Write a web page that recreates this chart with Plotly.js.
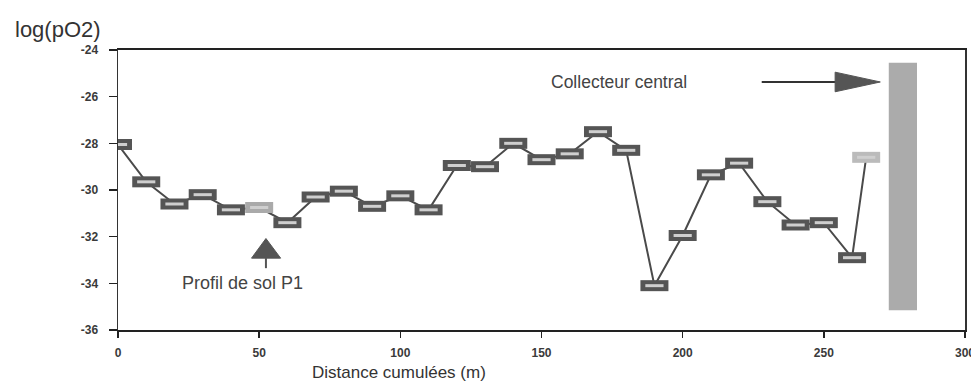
<!DOCTYPE html>
<html><head><meta charset="utf-8">
<script src="https://cdn.plot.ly/plotly-3.0.1.min.js"></script>
<style>html,body{margin:0;padding:0;background:#fff}#c{width:971px;height:383px}</style>
</head><body><div id="c"></div>
<script>
const distance = [0,10,20,30,40,50,60,70,80,90,100,110,120,130,140,150,160,170,180,190,200,210,220,230,240,250,260,265];
const logPO2 = [-28.05,-29.65,-30.6,-30.2,-30.85,-30.75,-31.4,-30.3,-30.05,-30.7,-30.25,-30.85,-28.95,-29.0,-28.0,-28.7,-28.45,-27.5,-28.3,-34.1,-31.95,-29.35,-28.85,-30.5,-31.5,-31.4,-32.9,-28.6];
const boxColors = ['#555','#555','#555','#555','#555','#aaa','#555','#555','#555','#555','#555','#555','#555','#555','#555','#555','#555','#555','#555','#555','#555','#555','#555','#555','#555','#555','#555','#bbb'];
const xTicks = [0,50,100,150,200,250,300];
const yTicks = [-24,-26,-28,-30,-32,-34,-36];
const collecteurX = [273, 283];
const collecteurY = [-35.15, -24.55];

const font = 'Liberation Sans, Arial, sans-serif';
const ink = '#3a3a3a';

const traces = [
  {x: distance, y: logPO2, type:'scatter', mode:'lines', line:{color:'#4a4a4a', width:2}, hoverinfo:'skip'},
  {x: distance, y: logPO2, type:'scatter', mode:'markers', hoverinfo:'skip',
   marker:{symbol:'line-ew', size:20, color:boxColors, line:{color:boxColors, width:11}}},
  {x: distance, y: logPO2, type:'scatter', mode:'markers', hoverinfo:'skip',
   marker:{symbol:'line-ew', size:13, color:'#cfcfcf', line:{color:'#cfcfcf', width:3}}}
];

const layout = {
  width:971, height:383,
  margin:{l:118, r:6, t:50, b:53},
  paper_bgcolor:'#fff', plot_bgcolor:'#fff',
  showlegend:false,
  font:{family:font, color:ink},
  xaxis:{range:[0,300], tickvals:xTicks, ticktext:xTicks.map(String), ticks:'outside', ticklen:6, tickcolor:'#222', tickwidth:1.5,
         ticklabelstandoff:5, ticklabeloverflow:'allow',
         showline:true, linecolor:'#222', linewidth:2, mirror:true, showgrid:false, zeroline:false,
         tickfont:{size:12, family:font, color:ink, weight:'bold'}},
  yaxis:{range:[-36,-24], tickvals:yTicks, ticktext:yTicks.map(String), ticks:'outside', ticklen:8, tickcolor:'#222', tickwidth:1.5,
         ticklabelstandoff:8,
         showline:true, linecolor:'#333', linewidth:1.5, mirror:true, showgrid:false, zeroline:false,
         tickfont:{size:12, family:font, color:ink, weight:'bold'}},
  shapes:[
    {type:'rect', xref:'x', yref:'y', x0:collecteurX[0], x1:collecteurX[1], y0:collecteurY[0], y1:collecteurY[1],
     fillcolor:'#ababab', line:{width:0}, layer:'below'},
    {type:'line', xref:'x', yref:'y', x0:228, x1:255, y0:-25.37, y1:-25.37, line:{color:'#333', width:2}},
    {type:'path', xref:'x', yref:'y', path:'M 254 -24.95 L 270 -25.37 L 254 -25.79 Z', fillcolor:'#555', line:{color:'#555', width:1}},
    {type:'path', xref:'x', yref:'y', path:'M 52.4 -32.08 L 57.6 -32.92 L 47.3 -32.92 Z', fillcolor:'#555', line:{color:'#555', width:1}},
    {type:'line', xref:'x', yref:'y', x0:52.4, x1:52.4, y0:-32.92, y1:-33.35, line:{color:'#555', width:2}}
  ],
  annotations:[
    {text:'log(pO2)', xref:'paper', yref:'paper', x:0, y:1, xanchor:'center', yanchor:'middle', xshift:-60, yshift:21,
     showarrow:false, font:{size:22, family:font, color:'#333'}},
    {text:'Distance cumulées (m)', xref:'x', yref:'paper', x:99.5, y:0, xanchor:'center', yanchor:'middle', yshift:-42,
     showarrow:false, font:{size:17, family:font, color:'#333'}},
    {text:'Collecteur central', xref:'x', yref:'y', x:177.5, y:-25.37, xanchor:'center', yanchor:'middle',
     showarrow:false, font:{size:17.5, family:font, color:'#444'}},
    {text:'Profil de sol P1', xref:'x', yref:'y', x:44, y:-34.0, xanchor:'center', yanchor:'middle',
     showarrow:false, font:{size:18, family:font, color:'#444'}}
  ]
};
Plotly.newPlot('c', traces, layout, {staticPlot:true, displayModeBar:false});
</script></body></html>
